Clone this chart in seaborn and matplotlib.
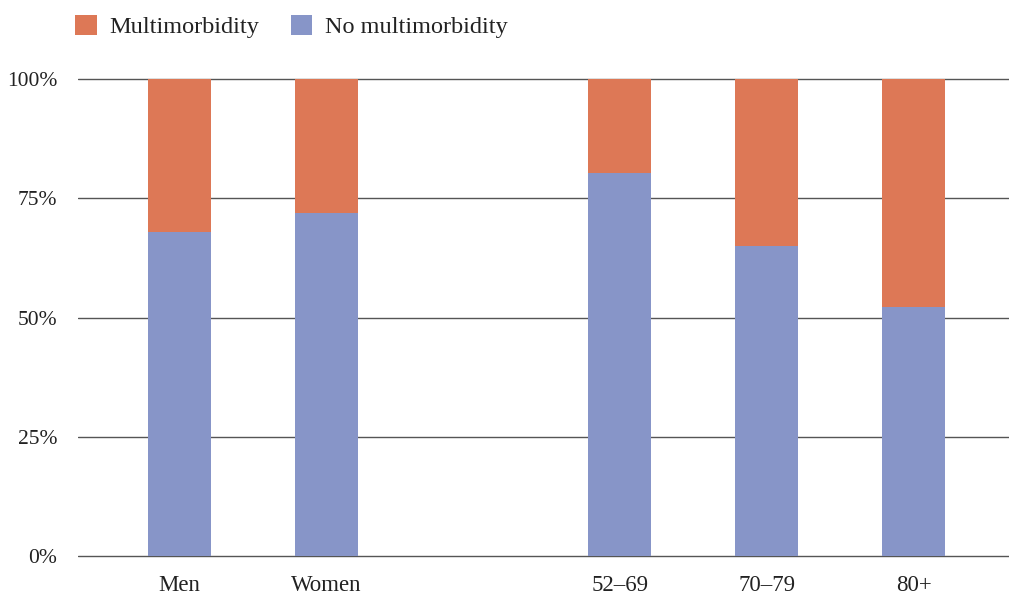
import matplotlib
matplotlib.use("Agg")
import matplotlib.pyplot as plt
from matplotlib.patches import Patch
from matplotlib.ticker import FuncFormatter
import numpy as np
import pandas as pd
import seaborn as sns

# Share of people with and without multimorbidity, by sex and by age group (%)
groups = ["Men", "Women", "52–69", "70–79", "80+"]
no_multimorbidity = [67.9, 72.0, 80.3, 64.9, 52.1]
multimorbidity = [32.1, 28.0, 19.7, 35.1, 47.9]
y_ticks = [0, 25, 50, 75, 100]

# blank slot separates the sex bars from the age-group bars
order = ["Men", "Women", " ", "52–69", "70–79", "80+"]

ORANGE = "#DD7856"
BLUE = "#8795C8"
GRID = "#555555"

sns.set_theme(style="white")
plt.rcParams["font.family"] = ["Liberation Serif", "DejaVu Serif"]

df = pd.DataFrame({
    "group": groups,
    "no": no_multimorbidity,
    "multi": multimorbidity,
})
df["total"] = df["no"] + df["multi"]

# axes frame: 0% sits at y=556 px, 100% at y=79 px
PX_PER_PCT = 4.77
Y_LO, Y_HI = -1.0, 105.0
ax_bottom_px = 556 - Y_LO * PX_PER_PCT
ax_top_px = 556 - Y_HI * PX_PER_PCT
fig = plt.figure(figsize=(10.09, 5.94), dpi=100)
ax = fig.add_axes([78 / 1009, 1 - ax_bottom_px / 594, 1 - 78 / 1009,
                   (ax_bottom_px - ax_top_px) / 594])

# stacked bars: the full column in orange, the no-multimorbidity share over it
sns.barplot(data=df, x="group", y="total", order=order, color=ORANGE,
            width=0.43, saturation=1, ax=ax, zorder=3)
sns.barplot(data=df, x="group", y="no", order=order, color=BLUE,
            width=0.43, saturation=1, ax=ax, zorder=4)
for p in ax.patches:
    p.set_linewidth(0)

ax.set_ylim(Y_LO, Y_HI)
ax.set_xlim(-0.691, 5.65)
ax.set_yticks(y_ticks)
ax.yaxis.set_major_formatter(FuncFormatter(lambda v, _: f"{v:.0f}%"))
for v in y_ticks:
    ax.axhline(v, color=GRID, lw=1.0, zorder=1)

ax.set_xlabel("")
ax.set_ylabel("")
for s in ax.spines.values():
    s.set_visible(False)
ax.tick_params(axis="both", length=0, colors="#222222")
ax.tick_params(axis="y", pad=15, labelsize=15.5)
ax.tick_params(axis="x", pad=10, labelsize=16.5)

handles = [Patch(facecolor=ORANGE, edgecolor="none", label="Multimorbidity"),
           Patch(facecolor=BLUE, edgecolor="none", label="No multimorbidity")]
fig.legend(handles=handles, loc="upper left", bbox_to_anchor=(75 / 1009, 1 - 15 / 594),
           ncol=2, frameon=False, fontsize=17.5, handlelength=0.9, handleheight=0.9,
           handletextpad=0.5, columnspacing=1.3, labelcolor="#222222",
           borderaxespad=0, borderpad=0)

fig.savefig("out.png", dpi=100)
